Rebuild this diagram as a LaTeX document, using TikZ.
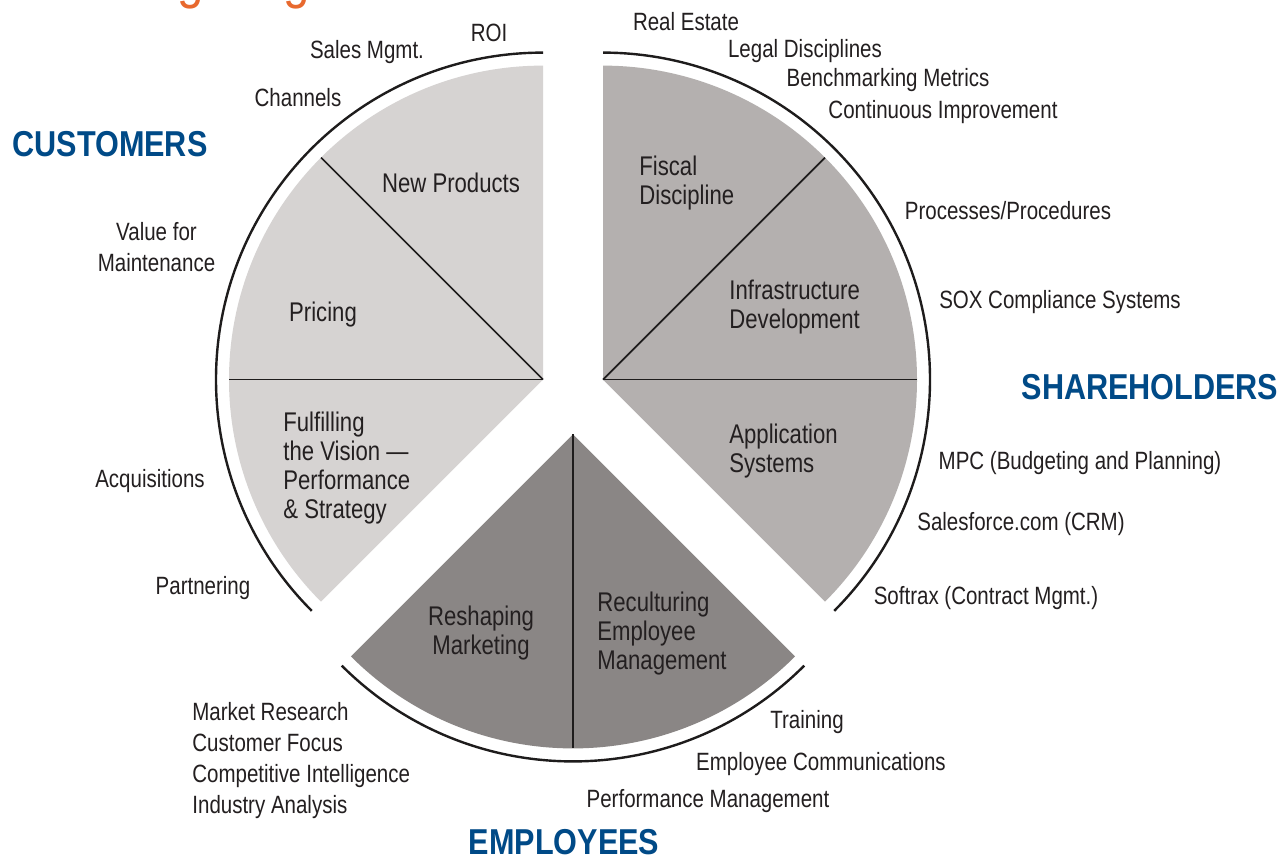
\documentclass[tikz,border=0pt]{standalone}
\usepackage{fontspec}
\setmainfont[FakeStretch=0.82]{Liberation Sans}
\newfontfamily\headfont[FakeStretch=0.85]{Liberation Sans}
\definecolor{custfill}{HTML}{D6D3D2}
\definecolor{sharefill}{HTML}{B4B0AF}
\definecolor{emplfill}{HTML}{8A8685}
\definecolor{linecol}{HTML}{1E1C1C}
\definecolor{textcol}{HTML}{231F20}
\definecolor{headblue}{HTML}{004A87}
\definecolor{titleorange}{HTML}{E8692E}
\tikzset{
  arcline/.style={draw=linecol, line width=1.2pt},
  divider/.style={draw=linecol, line width=0.8pt},
  outerlabel/.style={text=textcol, inner sep=0pt, font=\fontsize{12.5}{15.5}\selectfont},
  innerlabel/.style={text=textcol, inner sep=0pt, font=\fontsize{13.5}{14.5}\selectfont},
  heading/.style={text=headblue, inner sep=0pt, font=\headfont\bfseries\fontsize{18}{20}\selectfont},
}
\begin{document}
\begin{tikzpicture}[x=0.5pt, y=0.5pt]
\useasboundingbox (0,0) rectangle (1284,-859);
\fill[white] (0,0) rectangle (1284,-859);
% cut-off title
\begin{scope}
\clip (0,0) rectangle (1284,-859);
\node[anchor=base west, inner sep=0pt, text=titleorange, font=\headfont\fontsize{28}{30}\selectfont] (title) at (50,3) {Strategic Agenda};
\end{scope}
% apexes of the three exploded sectors
\coordinate (L) at (543,-379.6);
\coordinate (R) at (603,-379.6);
\coordinate (B) at (573,-434.4);
% sectors
\fill[custfill] (L) -- ++(90:314) arc[start angle=90, end angle=225, radius=314] -- cycle;
\fill[sharefill] (R) -- ++(-45:314) arc[start angle=-45, end angle=90, radius=314] -- cycle;
\fill[emplfill] (B) -- ++(225:314) arc[start angle=225, end angle=315, radius=314] -- cycle;
% dividers
\draw[divider] (L) -- ++(135:314);
\draw[divider] (L) -- ++(180:314);
\draw[divider] (R) -- ++(45:314);
\draw[divider] (R) -- ++(0:314);
\draw[divider] (B) -- ++(270:314);
% outer arcs
\draw[arcline] (L) ++(90:327) arc[start angle=90, end angle=225, radius=327];
\draw[arcline] (R) ++(-45:327) arc[start angle=-45, end angle=90, radius=327];
\draw[arcline] (B) ++(225:327) arc[start angle=225, end angle=315, radius=327];
% inner labels
\node[innerlabel, anchor=base] (newprod) at (451,-192.7) {New Products};
\node[innerlabel, anchor=base] (pricing) at (323,-321.7) {Pricing};
\node[innerlabel, anchor=west, align=left] (fulfil) at (283,-468) {Fulfilling\\the Vision ---\\Performance\\\& Strategy};
\node[innerlabel, anchor=west, align=left] (fiscal) at (639,-182.7) {Fiscal\\Discipline};
\node[innerlabel, anchor=west, align=left] (infra) at (729,-307) {Infrastructure\\Development};
\node[innerlabel, anchor=west, align=left] (appsys) at (729,-451) {Application\\Systems};
\node[innerlabel, align=center] (reshape) at (481,-633) {Reshaping\\Marketing};
\node[innerlabel, anchor=west, align=left] (recult) at (597,-633.7) {Reculturing\\Employee\\Management};
% headings
\node[heading, anchor=base] (customers) at (110,-156) {CUSTOMERS};
\node[heading, anchor=base] (shareholders) at (1150,-399) {SHAREHOLDERS};
\node[heading, anchor=base] (employees) at (564,-854) {EMPLOYEES};
% customer labels
\node[outerlabel, anchor=base] (roi) at (489,-41) {ROI};
\node[outerlabel, anchor=base] (salesm) at (367,-58) {Sales Mgmt.};
\node[outerlabel, anchor=base] (channels) at (298,-106) {Channels};
\node[outerlabel, align=center] (value) at (156.5,-247.3) {Value for\\Maintenance};
\node[outerlabel, anchor=base] (acq) at (150,-487) {Acquisitions};
\node[outerlabel, anchor=base] (partner) at (203,-594) {Partnering};
% employee labels
\node[outerlabel, anchor=west, align=left] (market) at (192,-761) {Market Research\\Customer Focus\\Competitive Intelligence\\Industry Analysis};
\node[outerlabel, anchor=base] (training) at (807,-728) {Training};
\node[outerlabel, anchor=base] (empcomm) at (821,-770) {Employee Communications};
\node[outerlabel, anchor=base] (perfman) at (708,-807) {Performance Management};
% shareholder labels
\node[outerlabel, anchor=base] (realest) at (686,-30) {Real Estate};
\node[outerlabel, anchor=base] (legal) at (805,-57) {Legal Disciplines};
\node[outerlabel, anchor=base] (bench) at (888,-86) {Benchmarking Metrics};
\node[outerlabel, anchor=base] (contimp) at (943,-118) {Continuous Improvement};
\node[outerlabel, anchor=base] (process) at (1008,-219) {Processes/Procedures};
\node[outerlabel, anchor=base] (sox) at (1060,-308) {SOX Compliance Systems};
\node[outerlabel, anchor=base] (mpc) at (1080,-469) {MPC (Budgeting and Planning)};
\node[outerlabel, anchor=base] (sfdc) at (1021,-530) {Salesforce.com (CRM)};
\node[outerlabel, anchor=base] (softrax) at (986,-604) {Softrax (Contract Mgmt.)};
\end{tikzpicture}
\end{document}
